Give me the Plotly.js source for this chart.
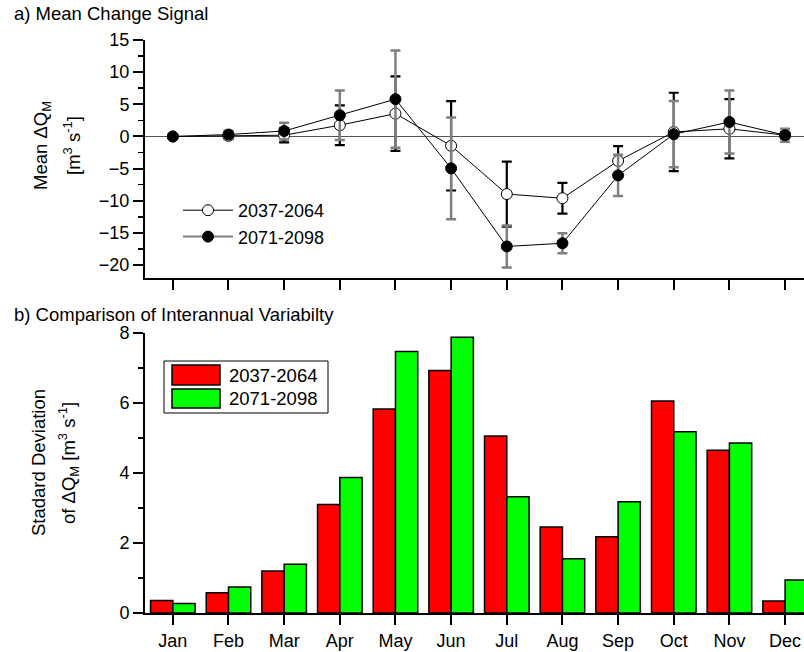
<!DOCTYPE html>
<html>
<head>
<meta charset="utf-8">
<script src="https://cdn.plot.ly/plotly-3.0.1.min.js"></script>
<style>html,body{margin:0;padding:0;background:#fff;}#chart{width:804px;height:652px;}</style>
</head>
<body>
<div id="chart"></div>
<script>
// ---- data ----
var months = ['Jan','Feb','Mar','Apr','May','Jun','Jul','Aug','Sep','Oct','Nov','Dec'];
var monthIdx = [1,2,3,4,5,6,7,8,9,10,11,12];
var seriesNames = ['2037-2064','2071-2098'];
var mean2037 = [0, 0.1, 0.2, 1.75, 3.55, -1.45, -8.95, -9.6, -3.8, 0.7, 1.2, 0.2];
var err2037  = [0.2, 0.5, 1.1, 3.1, 5.8, 6.95, 5.05, 2.4, 2.3, 6.1, 4.6, 0.5];
var mean2071 = [0, 0.3, 0.85, 3.3, 5.8, -4.95, -17.1, -16.6, -6.05, 0.35, 2.25, 0.2];
var err2071  = [0.3, 0.6, 1.3, 3.85, 7.55, 7.9, 3.25, 1.55, 3.2, 5.15, 4.9, 1.0];
var sd2037 = [0.36, 0.58, 1.20, 3.10, 5.83, 6.93, 5.06, 2.46, 2.18, 6.06, 4.65, 0.34];
var sd2071 = [0.27, 0.74, 1.39, 3.87, 7.47, 7.88, 3.32, 1.55, 3.18, 5.18, 4.86, 0.94];

// ---- geometry helpers (pixel -> paper) ----
var W = 804, H = 652, ML = 145, MR = 0, MT = 40, MB = 39;
var PW = W - ML - MR, PH = H - MT - MB;
function px(x){ return (x - ML) / PW; }
function py(y){ return (H - MB - y) / PH; }

var FONT = 'Liberation Sans, Arial, sans-serif';
var GRAY = '#808080';

var traces = [
  {x: monthIdx, y: mean2037, type:'scatter', mode:'lines+markers', xaxis:'x', yaxis:'y',
   name: seriesNames[0], showlegend:false,
   line:{color:'#000', width:1},
   marker:{symbol:'circle', size:11, color:'#fff', line:{color:'#000', width:1}},
   error_y:{type:'data', array: err2037, visible:true, color:'#000', thickness:2.2, width:5}},
  {x: monthIdx, y: mean2071, type:'scatter', mode:'lines+markers', xaxis:'x', yaxis:'y',
   name: seriesNames[1], showlegend:false,
   line:{color:'#000', width:1},
   marker:{symbol:'circle', size:11, color:'#000', line:{color:'#000', width:1}},
   error_y:{type:'data', array: err2071, visible:true, color:GRAY, thickness:2.5, width:5}},
  // legend entries
  {x:[null], y:[null], type:'scatter', mode:'lines+markers', xaxis:'x', yaxis:'y',
   name: seriesNames[0], showlegend:true,
   line:{color:'#000', width:1},
   marker:{symbol:'circle', size:11, color:'#fff', line:{color:'#000', width:1}}},
  {x:[null], y:[null], type:'scatter', mode:'lines+markers', xaxis:'x', yaxis:'y',
   name: seriesNames[1], showlegend:true,
   line:{color:GRAY, width:2},
   marker:{symbol:'circle', size:11, color:'#000', line:{color:'#000', width:1}}},
  // bars
  {x: monthIdx, y: sd2037, type:'bar', xaxis:'x2', yaxis:'y2', name: seriesNames[0], showlegend:false,
   marker:{color:'#ff0000', line:{color:'#000', width:1.5}}},
  {x: monthIdx, y: sd2071, type:'bar', xaxis:'x2', yaxis:'y2', name: seriesNames[1], showlegend:false,
   marker:{color:'#00ff00', line:{color:'#000', width:1.5}}}
];

var tickFont = {family: FONT, size: 18, color:'#000'};
var axBase = {showgrid:false, showline:true, linecolor:'#000', linewidth:2, ticks:'outside',
  ticklen:10, tickwidth:2, tickcolor:'#000', tickfont:tickFont, fixedrange:true};

var layout = {
  width: W, height: H,
  margin:{l:ML, r:MR, t:MT, b:MB, pad:0},
  paper_bgcolor:'#fff', plot_bgcolor:'#fff',
  font:{family: FONT, size:18, color:'#000'},
  barmode:'group', bargap:0.2, bargroupgap:0,
  showlegend:true,
  legend:{x: px(178), xanchor:'left', y: py(192), yanchor:'top', bgcolor:'rgba(0,0,0,0)',
    borderwidth:0, font:{family:FONT, size:18, color:'#000'}, itemwidth:50, tracegroupgap:0},
  xaxis: Object.assign({}, axBase, {domain:[0,1], anchor:'y', range:[0.5, 12.34],
    tickmode:'array', tickvals: monthIdx, ticktext: months, showticklabels:false, zeroline:false}),
  yaxis: Object.assign({}, axBase, {domain:[py(278), 1], anchor:'x', range:[-22, 15],
    tick0:0, dtick:5, zeroline:true, zerolinecolor:'#555', zerolinewidth:1,
    minor:{tick0:0, dtick:2.5, ticks:'outside', ticklen:5, tickwidth:1.5, tickcolor:'#000'}}),
  xaxis2: Object.assign({}, axBase, {domain:[0,1], anchor:'y2', range:[0.5, 12.34],
    tickmode:'array', tickvals: monthIdx, ticktext: months, zeroline:false}),
  yaxis2: Object.assign({}, axBase, {domain:[0, py(333)], anchor:'x2', range:[0, 8],
    tick0:0, dtick:2, zeroline:false,
    minor:{tick0:0, dtick:1, ticks:'outside', ticklen:5, tickwidth:1.5, tickcolor:'#000'}}),
  annotations:[
    {xref:'paper', yref:'paper', x:px(12), y:py(14), xanchor:'left', yanchor:'middle', showarrow:false,
     text:'a) Mean Change Signal', font:{family:FONT, size:18.5, color:'#000'}},
    {xref:'paper', yref:'paper', x:px(12), y:py(314), xanchor:'left', yanchor:'middle', showarrow:false,
     text:'b) Comparison of Interannual Variabilty', font:{family:FONT, size:18.5, color:'#000'}},
    {xref:'paper', yref:'paper', x:px(42), y:py(146), xanchor:'center', yanchor:'middle', showarrow:false,
     textangle:-90, text:'Mean \u0394Q<sub>M</sub>', font:{family:FONT, size:18.5, color:'#000'}},
    {xref:'paper', yref:'paper', x:px(72), y:py(146), xanchor:'center', yanchor:'middle', showarrow:false,
     textangle:-90, text:'[m<sup>3</sup> s<sup>-1</sup>]', font:{family:FONT, size:18.5, color:'#000'}},
    {xref:'paper', yref:'paper', x:px(38), y:py(463), xanchor:'center', yanchor:'middle', showarrow:false,
     textangle:-90, text:'Stadard Deviation', font:{family:FONT, size:18.5, color:'#000'}},
    {xref:'paper', yref:'paper', x:px(68), y:py(463), xanchor:'center', yanchor:'middle', showarrow:false,
     textangle:-90, text:'of \u0394Q<sub>M</sub> [m<sup>3</sup> s<sup>-1</sup>]', font:{family:FONT, size:18.5, color:'#000'}},
    // bottom legend labels
    {xref:'paper', yref:'paper', x:px(227), y:py(375), xanchor:'left', yanchor:'middle', showarrow:false,
     text: seriesNames[0], font:{family:FONT, size:18.5, color:'#000'}},
    {xref:'paper', yref:'paper', x:px(227), y:py(398.5), xanchor:'left', yanchor:'middle', showarrow:false,
     text: seriesNames[1], font:{family:FONT, size:18.5, color:'#000'}}
  ],
  shapes:[
    {type:'rect', xref:'paper', yref:'paper', x0:px(164), x1:px(328), y0:py(413), y1:py(361),
     line:{color:'#000', width:1}, fillcolor:'rgba(0,0,0,0)'},
    {type:'rect', xref:'paper', yref:'paper', x0:px(172), x1:px(220), y0:py(385), y1:py(365),
     line:{color:'#000', width:1.5}, fillcolor:'#ff0000'},
    {type:'rect', xref:'paper', yref:'paper', x0:px(172), x1:px(220), y0:py(408), y1:py(389),
     line:{color:'#000', width:1.5}, fillcolor:'#00ff00'}
  ]
};

Plotly.newPlot('chart', traces, layout, {staticPlot:true, displayModeBar:false});
</script>
</body>
</html>
